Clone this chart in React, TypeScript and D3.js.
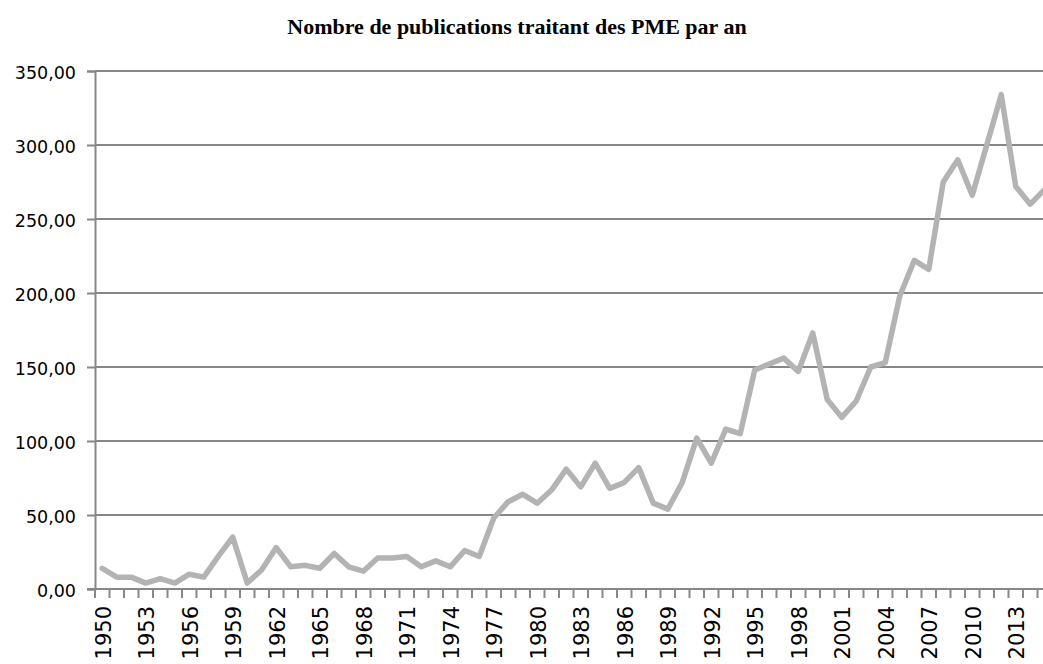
import React, { useEffect, useRef } from 'react';
import * as d3 from 'd3';

const years = d3.range(1950, 2016);
const publications = [
  14, 8, 8, 4, 7, 4, 10, 8, 22, 35,
  4, 13, 28, 15, 16, 14, 24, 15, 12, 21,
  21, 22, 15, 19, 15, 26, 22, 48, 59, 64,
  58, 67, 81, 69, 85, 68, 72, 82, 58, 54,
  72, 102, 85, 108, 105, 148, 152, 156, 147, 173,
  128, 116, 127, 150, 153, 198, 222, 216, 275, 290,
  266, 300, 334, 272, 260, 270,
];
const yTicks = [0, 50, 100, 150, 200, 250, 300, 350];
const xLabels = d3.range(1950, 2016, 3);
const title = 'Nombre de publications traitant des PME par an';

const W = 1043;
const H = 664;

const App: React.FC = () => {
  const svgRef = useRef<SVGSVGElement | null>(null);

  useEffect(() => {
    const svgEl = svgRef.current;
    if (!svgEl) return;

    const left = 95;
    const bottom = 589;
    const top = 71;
    const step = 14.5;

    const x = d3.scaleBand<number>()
      .domain(years)
      .range([left, left + years.length * step])
      .paddingInner(0)
      .paddingOuter(0);
    const y = d3.scaleLinear().domain([0, 350]).range([bottom, top]);

    const svg = d3.select(svgEl);
    svg.selectAll('*').remove();

    const axisColor = '#878787';
    const font = '"DejaVu Sans", Verdana, sans-serif';

    // Title
    svg.append('text')
      .attr('x', 517)
      .attr('y', 34)
      .attr('text-anchor', 'middle')
      .attr('font-family', '"Liberation Serif", "Times New Roman", serif')
      .attr('font-weight', 'bold')
      .attr('font-size', 22)
      .attr('fill', '#000')
      .text(title);

    // Gridlines
    svg.append('g')
      .selectAll('line')
      .data(yTicks.filter((t) => t > 0))
      .join('line')
      .attr('x1', left)
      .attr('x2', W + 20)
      .attr('y1', (d) => y(d))
      .attr('y2', (d) => y(d))
      .attr('stroke', axisColor)
      .attr('stroke-width', 2);

    // Y axis
    const yAxis = svg.append('g')
      .attr('transform', `translate(${left},0)`)
      .call(
        d3.axisLeft(y)
          .tickValues(yTicks)
          .tickSize(8)
          .tickPadding(11)
          .tickFormat((d) => (d as number).toFixed(2).replace('.', ','))
      );
    yAxis.selectAll('path,line').attr('stroke', axisColor).attr('stroke-width', 2);
    yAxis.selectAll('text')
      .attr('fill', '#000')
      .attr('font-family', font)
      .attr('font-size', 17.5)
      .attr('dy', '0.42em');

    // X axis line and ticks between categories
    const xg = svg.append('g');
    xg.append('line')
      .attr('x1', left - 8)
      .attr('x2', W + 20)
      .attr('y1', bottom)
      .attr('y2', bottom)
      .attr('stroke', axisColor)
      .attr('stroke-width', 2);
    xg.selectAll('line.tick')
      .data(years.concat([years[years.length - 1] + 1]))
      .join('line')
      .attr('class', 'tick')
      .attr('x1', (d, i) => left + i * x.bandwidth())
      .attr('x2', (d, i) => left + i * x.bandwidth())
      .attr('y1', bottom)
      .attr('y2', bottom + 9)
      .attr('stroke', axisColor)
      .attr('stroke-width', 2);

    xg.selectAll('text')
      .data(xLabels)
      .join('text')
      .attr('transform', (d) => `translate(${(x(d) ?? 0) + x.bandwidth() / 2 + 1},${bottom + 17}) rotate(-90)`)
      .attr('text-anchor', 'end')
      .attr('dy', '0.36em')
      .attr('fill', '#000')
      .attr('font-family', font)
      .attr('font-size', 21)
      .text((d) => String(d));

    // Line
    const line = d3.line<number>()
      .x((d, i) => (x(years[i]) ?? 0) + x.bandwidth() / 2)
      .y((d) => y(d));

    svg.append('path')
      .datum(publications)
      .attr('d', line)
      .attr('fill', 'none')
      .attr('stroke', '#b3b3b3')
      .attr('stroke-width', 5.5)
      .attr('stroke-linejoin', 'round')
      .attr('stroke-linecap', 'round');
  }, []);

  return (
    <div style={{ position: 'fixed', left: 0, top: 0, width: W, height: H, background: '#fff' }}>
      <svg ref={svgRef} width={W} height={H} role="img" aria-label={title} style={{ display: 'block' }} />
    </div>
  );
};

export default App;
